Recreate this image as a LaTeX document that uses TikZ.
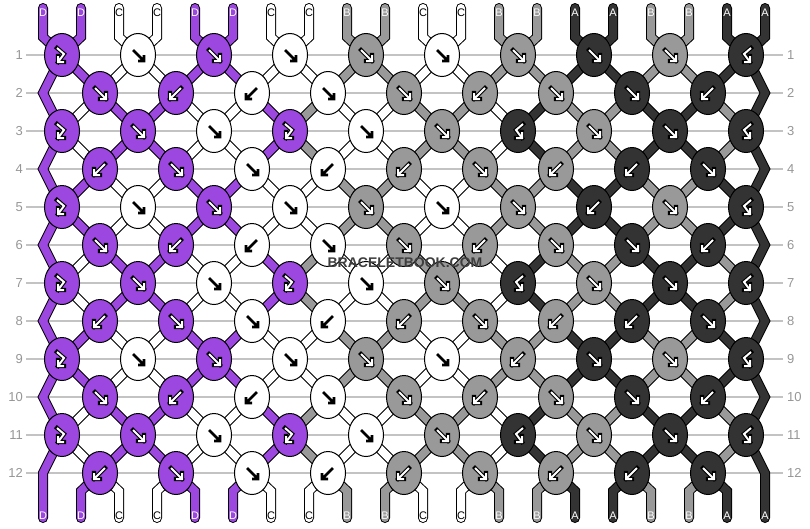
\documentclass[tikz,border=0pt]{standalone}
\usepackage{fontspec}
\setmainfont{Liberation Sans}
\usetikzlibrary{shapes.geometric,backgrounds}

\definecolor{colP}{RGB}{155,71,224}
\definecolor{colW}{RGB}{255,255,255}
\definecolor{colG}{RGB}{153,153,153}
\definecolor{colK}{RGB}{51,51,51}
\definecolor{rowline}{RGB}{195,195,195}
\definecolor{rownum}{RGB}{150,150,150}
\definecolor{brandgray}{RGB}{62,62,62}

% arrow icons drawn inside the knots
\newcommand{\icfwd}{(-5,-5) -- (6,6) (0,6) -- (6,6) -- (6,0)}
\newcommand{\icbwd}{(5,-5) -- (-6,6) (0,6) -- (-6,6) -- (-6,0)}
\newcommand{\icfb}{(-5,-7) -- (2,-1) -- (-4,7) (2,7) -- (-4,7) -- (-4,1)}
\newcommand{\icbf}{(5,-7) -- (-2,-1) -- (4,7) (-2,7) -- (4,7) -- (4,1)}

% string colours after a row
\newcommand{\stA}{P,P,W,W,P,P,W,W,G,G,W,W,G,G,K,K,G,G,K,K}
\newcommand{\stB}{P,W,P,P,W,W,P,G,W,W,G,G,W,K,G,G,K,K,G,K}

\tikzset{
  knot/.style={ellipse,draw=black,line width=1pt,minimum width=35pt,minimum height=43pt,inner sep=0pt},
  strand/.style={draw=black,line width=1pt,double=col#1,double distance=8pt},
  rowl/.style={draw=rowline,line width=1.5pt},
  rowno/.style={text=rownum,font=\fontsize{13}{13}\selectfont,inner sep=0pt},
  tag/.style={font=\fontsize{11}{11}\selectfont,inner sep=0pt},
  tag P/.style={tag,text=white},
  tag W/.style={tag,text=black},
  tag G/.style={tag,text=white},
  tag K/.style={tag,text=white},
  under P/.style={draw=black,line width=4.2pt,line cap=rect},
  under G/.style={draw=black,line width=4.2pt,line cap=rect},
  under K/.style={draw=black,line width=4.2pt,line cap=rect},
  under W/.style={draw=black,line width=2.6pt},
  over P/.style={draw=white,line width=2pt},
  over G/.style={draw=white,line width=2pt},
  over K/.style={draw=white,line width=2pt},
  over W/.style={draw=none}
}

\begin{document}
\begin{tikzpicture}[x=1pt,y=-1pt]
  \useasboundingbox (0,0) rectangle (810,528);

  % knots, row by row
  \foreach \r/\row in {
    1/{P/fb,W/fwd,P/fwd,W/fwd,G/fwd,W/fwd,G/fwd,K/fwd,G/fwd,K/bf},
    2/{P/fwd,P/bwd,W/bwd,W/fwd,G/fwd,G/bwd,G/fwd,K/fwd,K/bwd},
    3/{P/fb,P/fwd,W/fwd,P/fb,W/fwd,G/fwd,K/bf,G/fwd,K/fwd,K/bf},
    4/{P/bwd,P/fwd,W/fwd,W/bwd,G/bwd,G/fwd,G/bwd,K/bwd,K/fwd},
    5/{P/fb,W/fwd,P/fwd,W/fwd,G/fwd,W/fwd,G/fwd,K/bwd,G/fwd,K/bf},
    6/{P/fwd,P/bwd,W/bwd,W/fwd,G/fwd,G/bwd,G/fwd,K/fwd,K/bwd},
    7/{P/fb,P/fwd,W/fwd,P/fb,W/fwd,G/fwd,K/bf,G/fwd,K/fwd,K/bf},
    8/{P/bwd,P/fwd,W/fwd,W/bwd,G/bwd,G/fwd,G/bwd,K/bwd,K/fwd},
    9/{P/fb,W/fwd,P/fwd,W/fwd,G/fwd,W/fwd,G/bwd,K/fwd,G/fwd,K/bf},
    10/{P/fwd,P/bwd,W/bwd,W/fwd,G/fwd,G/bwd,G/fwd,K/fwd,K/bwd},
    11/{P/fb,P/fwd,W/fwd,P/fb,W/fwd,G/fwd,K/bf,G/fwd,K/fwd,K/bf},
    12/{P/bwd,P/fwd,W/fwd,W/bwd,G/bwd,G/fwd,G/bwd,K/bwd,K/fwd}}
  {
    \pgfmathtruncatemacro{\y}{55+38*(\r-1)}
    \pgfmathtruncatemacro{\xo}{mod(\r,2)==1 ? 62 : 100}
    \foreach \kc/\kt [count=\i from 0] in \row
    {
      \pgfmathtruncatemacro{\x}{\xo+76*\i}
      \node[knot,fill=col\kc] (k\r-\i) at (\x,\y) {};
      \draw[under \kc,shift={(\x,\y)}] \csname ic\kt\endcsname;
      \draw[over \kc,shift={(\x,\y)}] \csname ic\kt\endcsname;
    }
    \node[rowno,anchor=east] (nl\r) at (23,\y) {\r};
    \node[rowno,anchor=west] (nr\r) at (787,\y) {\r};
  }

  \begin{scope}[on background layer]
    % row lines
    \foreach \r in {1,...,12}
    {
      \pgfmathtruncatemacro{\y}{55+38*(\r-1)}
      \draw[rowl] (26,\y) -- (783,\y);
    }
    % strings from the top
    \foreach \kc [count=\p from 0] in \stA
    {
      \pgfmathtruncatemacro{\x}{43+38*\p}
      \pgfmathtruncatemacro{\a}{\p/2}
      \draw[strand=\kc,line cap=round] (\x,8) -- (\x,37) -- (k1-\a.center);
    }
    % strings between rows
    \foreach \r/\st in {1/A,2/B,3/B,4/A,5/A,6/B,7/B,8/A,9/A,10/B,11/B}
    {
      \pgfmathtruncatemacro{\rr}{\r+1}
      \pgfmathtruncatemacro{\odd}{mod(\r,2)}
      \edef\cur{\csname st\st\endcsname}
      \foreach \kc [count=\p from 0] in \cur
      {
        \ifnum\p>0 \ifnum\p<19
          \pgfmathtruncatemacro{\a}{\odd==1 ? \p/2 : (\p-1)/2}
          \pgfmathtruncatemacro{\b}{\odd==1 ? (\p-1)/2 : \p/2}
          \draw[strand=\kc] (k\r-\a.center) -- (k\rr-\b.center);
        \fi\fi
      }
    }
    % edge strings
    \foreach \r in {1,3,5,7,9}
    {
      \pgfmathtruncatemacro{\ym}{55+38*\r}
      \pgfmathtruncatemacro{\rn}{\r+2}
      \draw[strand=P] (k\r-0.center) -- (43,\ym) -- (k\rn-0.center);
      \draw[strand=K] (k\r-9.center) -- (765,\ym) -- (k\rn-9.center);
    }
    % strings to the bottom
    \draw[strand=P,line cap=round] (k11-0.center) -- (43,473) -- (43,518);
    \draw[strand=K,line cap=round] (k11-9.center) -- (765,473) -- (765,518);
    \foreach \kc [count=\p from 0] in \stA
    {
      \ifnum\p>0 \ifnum\p<19
        \pgfmathtruncatemacro{\x}{43+38*\p}
        \pgfmathtruncatemacro{\b}{(\p-1)/2}
        \draw[strand=\kc,line cap=round] (k12-\b.center) -- (\x,491) -- (\x,518);
      \fi\fi
    }
  \end{scope}

  % string letters
  \foreach \kc/\lt [count=\p from 0] in {P/D,P/D,W/C,W/C,P/D,P/D,W/C,W/C,G/B,G/B,W/C,W/C,G/B,G/B,K/A,K/A,G/B,G/B,K/A,K/A}
  {
    \pgfmathtruncatemacro{\x}{43+38*\p}
    \node[tag \kc] (top\p) at (\x,12.5) {\lt};
    \node[tag \kc] (bot\p) at (\x,516) {\lt};
  }

  \node[text=brandgray,font=\bfseries\fontsize{14}{14}\selectfont] (brand) at (405,263) {BRACELETBOOK.COM};
\end{tikzpicture}
\end{document}
